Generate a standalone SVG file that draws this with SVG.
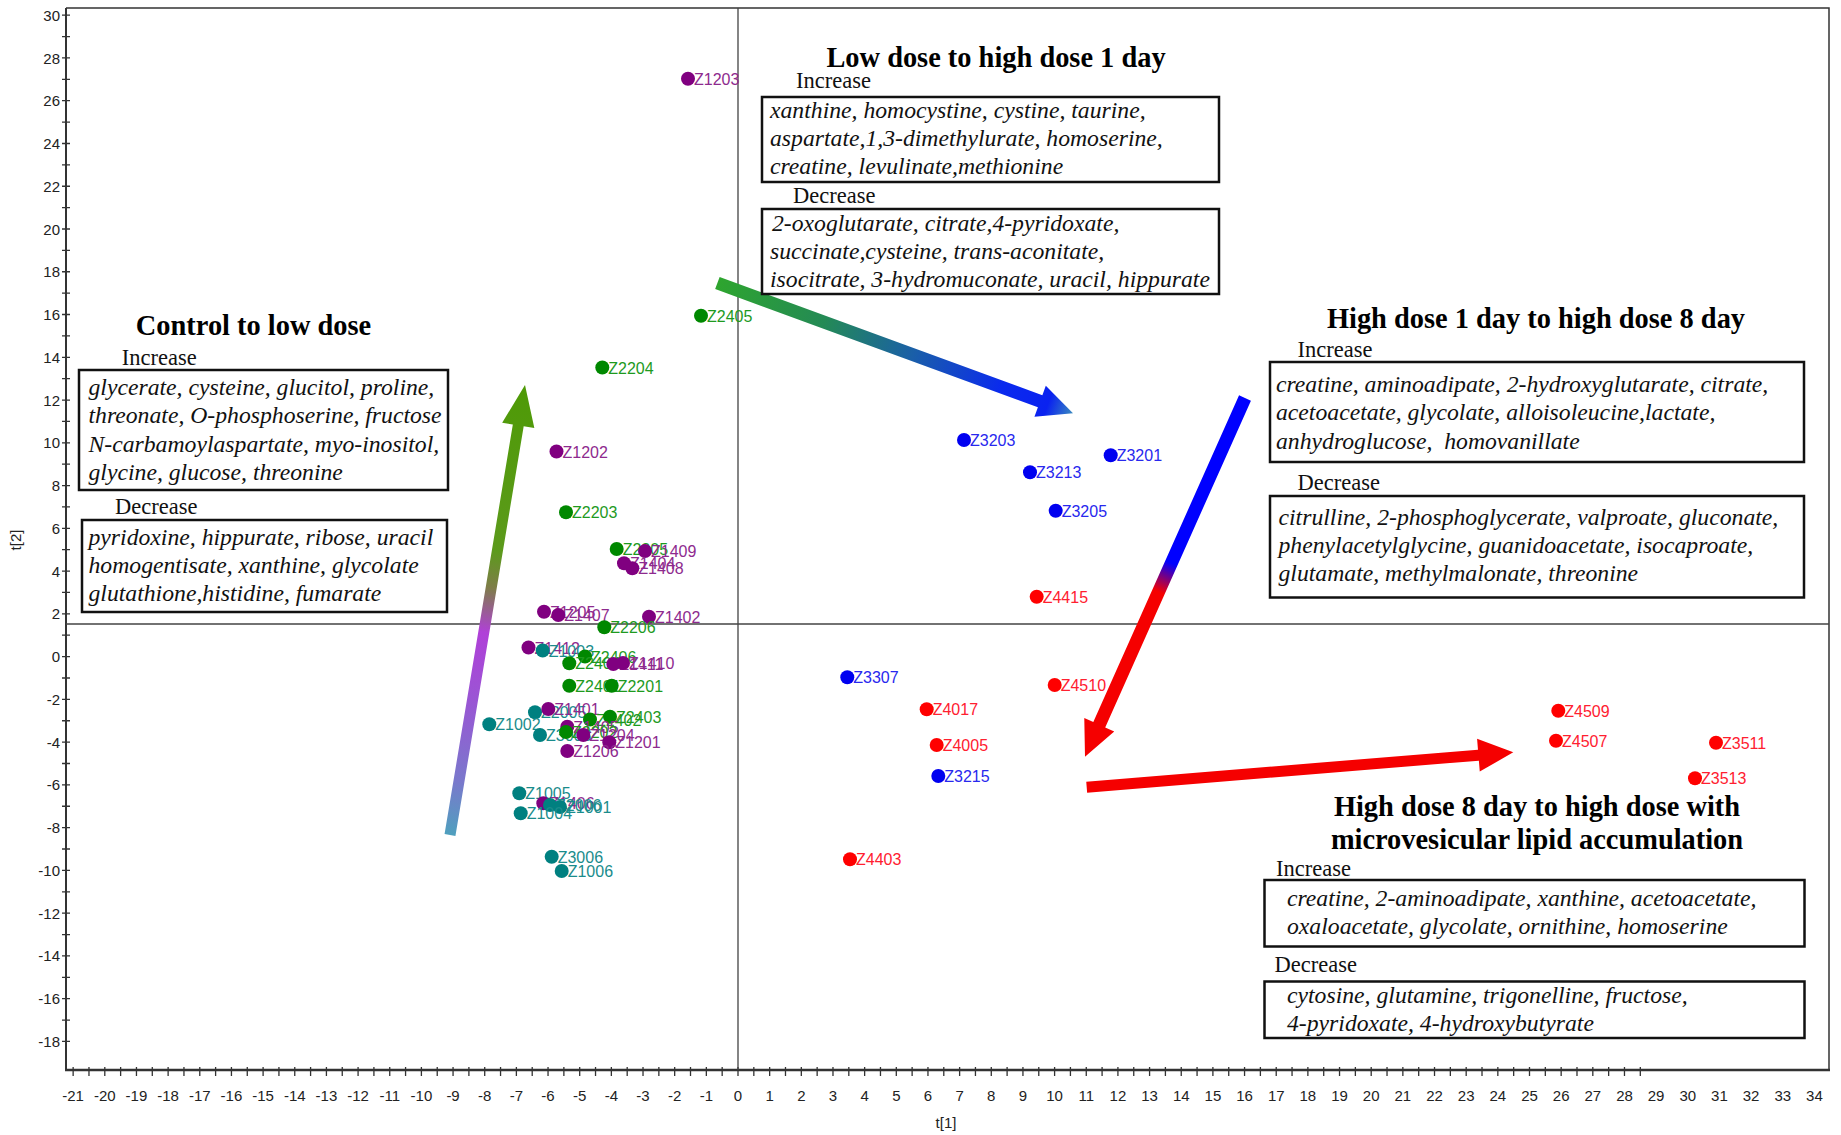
<svg xmlns="http://www.w3.org/2000/svg" width="1841" height="1135" viewBox="0 0 1841 1135">
<style>
.ax{stroke:#333;fill:none}
.ref{stroke:#444;stroke-width:1.3;fill:none}
.tk{font-family:"Liberation Sans",Arial,sans-serif;font-size:15px;fill:#222}
.lbl{font-family:"Liberation Sans",Arial,sans-serif;font-size:16px}
.ttl{font-family:"Liberation Serif","Times New Roman",serif;font-weight:bold;font-size:28.4px;fill:#000}
.sub{font-family:"Liberation Serif","Times New Roman",serif;font-size:22.5px;fill:#111}
.itm{font-family:"Liberation Serif","Times New Roman",serif;font-style:italic;font-size:23.7px;fill:#111}
.box{fill:none;stroke:#111;stroke-width:2.5}
.pu circle{fill:#800080}.pu text{fill:#8E2A8E}
.gr circle{fill:#008800}.gr text{fill:#1E9A1E}
.te circle{fill:#008080}.te text{fill:#1A8C8C}
.bl circle{fill:#0000F0}.bl text{fill:#2828EE}
.rd circle{fill:#FF0000}.rd text{fill:#FF2030}
</style>
<defs>
<linearGradient id="g1" gradientUnits="userSpaceOnUse" x1="450" y1="835" x2="525" y2="385">
<stop offset="0" stop-color="#4FA0BE"/><stop offset="0.12" stop-color="#7A78CC"/><stop offset="0.3" stop-color="#9A55D4"/><stop offset="0.45" stop-color="#B040D8"/><stop offset="0.55" stop-color="#7E7D48"/><stop offset="0.63" stop-color="#5C9A1C"/><stop offset="1" stop-color="#4E9A06"/>
</linearGradient>
<linearGradient id="g2" gradientUnits="userSpaceOnUse" x1="717" y1="283" x2="1073" y2="413">
<stop offset="0" stop-color="#2EA52E"/><stop offset="0.3" stop-color="#248A55"/><stop offset="0.55" stop-color="#1A5FA8"/><stop offset="0.8" stop-color="#0A2AEE"/><stop offset="0.93" stop-color="#0A22F0"/><stop offset="1" stop-color="#3A8AC0"/>
</linearGradient>
<linearGradient id="g3" gradientUnits="userSpaceOnUse" x1="1245" y1="398" x2="1085" y2="757">
<stop offset="0" stop-color="#0000FF"/><stop offset="0.46" stop-color="#0000FF"/><stop offset="0.54" stop-color="#F50000"/><stop offset="1" stop-color="#F50000"/>
</linearGradient>
</defs>
<rect width="1841" height="1135" fill="#fff"/>
<g id="axes">
<path class="ax" stroke-width="1.5" d="M66 8H1829V1070"/>
<path class="ax" stroke-width="2" d="M66 8V1070"/>
<path class="ax" stroke-width="2.5" d="M65 1070H1830"/>
<path class="ax" stroke-width="1.3" d="M62 15.2h8m-8 21.38h8m-8 21.38h8m-8 21.38h8m-8 21.38h8m-8 21.38h8m-8 21.38h8m-8 21.38h8m-8 21.38h8m-8 21.38h8m-8 21.38h8m-8 21.38h8m-8 21.38h8m-8 21.38h8m-8 21.38h8m-8 21.38h8m-8 21.38h8m-8 21.38h8m-8 21.38h8m-8 21.38h8m-8 21.38h8m-8 21.38h8m-8 21.38h8m-8 21.38h8m-8 21.38h8m-8 21.38h8m-8 21.38h8m-8 21.38h8m-8 21.38h8m-8 21.38h8m-8 21.38h8m-8 21.38h8m-8 21.38h8m-8 21.38h8m-8 21.38h8m-8 21.38h8m-8 21.38h8m-8 21.38h8m-8 21.38h8m-8 21.38h8m-8 21.38h8m-8 21.38h8m-8 21.38h8m-8 21.38h8m-8 21.38h8m-8 21.38h8m-8 21.38h8m-8 21.38h8m-8 21.38h8"/>
<path class="ax" stroke-width="1.3" d="M73.14 1067v9m15.83 -9v9m15.83 -9v9m15.83 -9v9m15.83 -9v9m15.83 -9v9m15.83 -9v9m15.83 -9v9m15.83 -9v9m15.83 -9v9m15.83 -9v9m15.83 -9v9m15.83 -9v9m15.83 -9v9m15.83 -9v9m15.83 -9v9m15.83 -9v9m15.83 -9v9m15.83 -9v9m15.83 -9v9m15.83 -9v9m15.83 -9v9m15.83 -9v9m15.83 -9v9m15.83 -9v9m15.83 -9v9m15.83 -9v9m15.83 -9v9m15.83 -9v9m15.83 -9v9m15.83 -9v9m15.83 -9v9m15.83 -9v9m15.83 -9v9m15.83 -9v9m15.83 -9v9m15.83 -9v9m15.83 -9v9m15.83 -9v9m15.83 -9v9m15.83 -9v9m15.83 -9v9m15.83 -9v9m15.83 -9v9m15.83 -9v9m15.83 -9v9m15.83 -9v9m15.83 -9v9m15.83 -9v9m15.83 -9v9m15.83 -9v9m15.83 -9v9m15.83 -9v9m15.83 -9v9m15.83 -9v9m15.83 -9v9m15.83 -9v9m15.83 -9v9m15.83 -9v9m15.83 -9v9m15.83 -9v9m15.83 -9v9m15.83 -9v9m15.83 -9v9m15.83 -9v9m15.83 -9v9m15.83 -9v9m15.83 -9v9m15.83 -9v9m15.83 -9v9m15.83 -9v9m15.83 -9v9m15.83 -9v9m15.83 -9v9m15.83 -9v9m15.83 -9v9m15.83 -9v9m15.83 -9v9m15.83 -9v9m15.83 -9v9m15.83 -9v9m15.83 -9v9m15.83 -9v9m15.83 -9v9m15.83 -9v9m15.83 -9v9m15.83 -9v9m15.83 -9v9m15.83 -9v9m15.83 -9v9m15.83 -9v9m15.83 -9v9m15.83 -9v9m15.83 -9v9m15.83 -9v9m15.83 -9v9m15.83 -9v9m15.83 -9v9m15.83 -9v9m15.83 -9v9"/>
<path class="ref" d="M738 8V1070M66 624H1829"/>
<g class="tk" text-anchor="end">
<text x="60" y="20.7">30</text><text x="60" y="63.5">28</text><text x="60" y="106.2">26</text><text x="60" y="149">24</text><text x="60" y="191.7">22</text><text x="60" y="234.5">20</text><text x="60" y="277.3">18</text><text x="60" y="320">16</text><text x="60" y="362.8">14</text><text x="60" y="405.5">12</text><text x="60" y="448.3">10</text><text x="60" y="491.1">8</text><text x="60" y="533.8">6</text><text x="60" y="576.6">4</text><text x="60" y="619.3">2</text><text x="60" y="662.1">0</text><text x="60" y="704.9">-2</text><text x="60" y="747.6">-4</text><text x="60" y="790.4">-6</text><text x="60" y="833.1">-8</text><text x="60" y="875.9">-10</text><text x="60" y="918.7">-12</text><text x="60" y="961.4">-14</text><text x="60" y="1004.2">-16</text><text x="60" y="1046.9">-18</text>
</g>
<g class="tk" text-anchor="middle">
<text x="73.14" y="1101">-21</text><text x="104.8" y="1101">-20</text><text x="136.46" y="1101">-19</text><text x="168.12" y="1101">-18</text><text x="199.78" y="1101">-17</text><text x="231.44" y="1101">-16</text><text x="263.1" y="1101">-15</text><text x="294.76" y="1101">-14</text><text x="326.42" y="1101">-13</text><text x="358.08" y="1101">-12</text><text x="389.74" y="1101">-11</text><text x="421.4" y="1101">-10</text><text x="453.06" y="1101">-9</text><text x="484.72" y="1101">-8</text><text x="516.38" y="1101">-7</text><text x="548.04" y="1101">-6</text><text x="579.7" y="1101">-5</text><text x="611.36" y="1101">-4</text><text x="643.02" y="1101">-3</text><text x="674.68" y="1101">-2</text><text x="706.34" y="1101">-1</text><text x="738" y="1101">0</text><text x="769.66" y="1101">1</text><text x="801.32" y="1101">2</text><text x="832.98" y="1101">3</text><text x="864.64" y="1101">4</text><text x="896.3" y="1101">5</text><text x="927.96" y="1101">6</text><text x="959.62" y="1101">7</text><text x="991.28" y="1101">8</text><text x="1022.94" y="1101">9</text><text x="1054.6" y="1101">10</text><text x="1086.26" y="1101">11</text><text x="1117.92" y="1101">12</text><text x="1149.58" y="1101">13</text><text x="1181.24" y="1101">14</text><text x="1212.9" y="1101">15</text><text x="1244.56" y="1101">16</text><text x="1276.22" y="1101">17</text><text x="1307.88" y="1101">18</text><text x="1339.54" y="1101">19</text><text x="1371.2" y="1101">20</text><text x="1402.86" y="1101">21</text><text x="1434.52" y="1101">22</text><text x="1466.18" y="1101">23</text><text x="1497.84" y="1101">24</text><text x="1529.5" y="1101">25</text><text x="1561.16" y="1101">26</text><text x="1592.82" y="1101">27</text><text x="1624.48" y="1101">28</text><text x="1656.14" y="1101">29</text><text x="1687.8" y="1101">30</text><text x="1719.46" y="1101">31</text><text x="1751.12" y="1101">32</text><text x="1782.78" y="1101">33</text><text x="1814.44" y="1101">34</text>
<text x="946" y="1128">t[1]</text>
<text transform="translate(21 540) rotate(-90)">t[2]</text>
</g>
</g>
<g id="points" class="lbl">
<g id="p-Z1203" class="pu"><circle cx="688" cy="78.7" r="7"/><text x="694" y="84.7">Z1203</text></g>
<g id="p-Z2405" class="gr"><circle cx="701" cy="315.8" r="7"/><text x="707" y="321.8">Z2405</text></g>
<g id="p-Z2204" class="gr"><circle cx="602.3" cy="367.5" r="7"/><text x="608.3" y="373.5">Z2204</text></g>
<g id="p-Z1202" class="pu"><circle cx="556.5" cy="451.5" r="7"/><text x="562.5" y="457.5">Z1202</text></g>
<g id="p-Z2203" class="gr"><circle cx="566" cy="512.3" r="7"/><text x="572" y="518.3">Z2203</text></g>
<g id="p-Z2205" class="gr"><circle cx="616.7" cy="549" r="7"/><text x="622.7" y="555">Z2205</text></g>
<g id="p-Z1409" class="pu"><circle cx="645" cy="551" r="7"/><text x="651" y="557">Z1409</text></g>
<g id="p-Z1404" class="pu"><circle cx="624" cy="563.3" r="7"/><text x="630" y="569.3">Z1404</text></g>
<g id="p-Z1408" class="pu"><circle cx="632.3" cy="568.3" r="7"/><text x="638.3" y="574.3">Z1408</text></g>
<g id="p-Z1205" class="pu"><circle cx="544" cy="611.7" r="7"/><text x="550" y="617.7">Z1205</text></g>
<g id="p-Z1407" class="pu"><circle cx="558.3" cy="615" r="7"/><text x="564.3" y="621">Z1407</text></g>
<g id="p-Z1402" class="pu"><circle cx="649" cy="616.7" r="7"/><text x="655" y="622.7">Z1402</text></g>
<g id="p-Z2206" class="gr"><circle cx="604.3" cy="627.3" r="7"/><text x="610.3" y="633.3">Z2206</text></g>
<g id="p-Z1412" class="pu"><circle cx="528.5" cy="647.5" r="7"/><text x="534.5" y="653.5">Z1412</text></g>
<g id="p-Z1003" class="te"><circle cx="542.7" cy="650.5" r="7"/><text x="548.7" y="656.5">Z1003</text></g>
<g id="p-Z2406" class="gr"><circle cx="585" cy="656.5" r="7"/><text x="591" y="662.5">Z2406</text></g>
<g id="p-Z2404" class="gr"><circle cx="569.3" cy="663.3" r="7"/><text x="575.3" y="669.3">Z2404</text></g>
<g id="p-Z1411" class="pu"><circle cx="613.3" cy="664" r="7"/><text x="619.3" y="670">Z1411</text></g>
<g id="p-Z1410" class="pu"><circle cx="623" cy="663" r="7"/><text x="629" y="669">Z1410</text></g>
<g id="p-Z2401" class="gr"><circle cx="569.3" cy="685.7" r="7"/><text x="575.3" y="691.7">Z2401</text></g>
<g id="p-Z2201" class="gr"><circle cx="611.7" cy="685.7" r="7"/><text x="617.7" y="691.7">Z2201</text></g>
<g id="p-Z2005" class="te"><circle cx="535" cy="712.3" r="7"/><text x="541" y="718.3">Z2005</text></g>
<g id="p-Z1401" class="pu"><circle cx="548.3" cy="709" r="7"/><text x="554.3" y="715">Z1401</text></g>
<g id="p-Z1002" class="te"><circle cx="489.3" cy="724.3" r="7"/><text x="495.3" y="730.3">Z1002</text></g>
<g id="p-Z2402" class="gr"><circle cx="590" cy="719.5" r="7"/><text x="596" y="725.5">Z2402</text></g>
<g id="p-Z2403" class="gr"><circle cx="610" cy="716.7" r="7"/><text x="616" y="722.7">Z2403</text></g>
<g id="p-Z3003" class="te"><circle cx="540" cy="735" r="7"/><text x="546" y="741">Z3003</text></g>
<g id="p-Z1405" class="pu"><circle cx="567.3" cy="726.7" r="7"/><text x="573.3" y="732.7">Z1405</text></g>
<g id="p-Z2202" class="gr"><circle cx="566" cy="732" r="7"/><text x="572" y="738">Z2202</text></g>
<g id="p-Z1204" class="pu"><circle cx="583.3" cy="735" r="7"/><text x="589.3" y="741">Z1204</text></g>
<g id="p-Z1201" class="pu"><circle cx="609.3" cy="742.3" r="7"/><text x="615.3" y="748.3">Z1201</text></g>
<g id="p-Z1206" class="pu"><circle cx="567.3" cy="751" r="7"/><text x="573.3" y="757">Z1206</text></g>
<g id="p-Z1005" class="te"><circle cx="519.3" cy="793.3" r="7"/><text x="525.3" y="799.3">Z1005</text></g>
<g id="p-Z1406" class="pu"><circle cx="543.3" cy="803.3" r="7"/><text x="549.3" y="809.3">Z1406</text></g>
<g id="p-Z2006" class="te"><circle cx="550" cy="805" r="7"/><text x="556" y="811">Z2006</text></g>
<g id="p-Z1001" class="te"><circle cx="560" cy="807" r="7"/><text x="566" y="813">Z1001</text></g>
<g id="p-Z1004" class="te"><circle cx="520.7" cy="813.3" r="7"/><text x="526.7" y="819.3">Z1004</text></g>
<g id="p-Z3006" class="te"><circle cx="551.7" cy="856.7" r="7"/><text x="557.7" y="862.7">Z3006</text></g>
<g id="p-Z1006" class="te"><circle cx="561.7" cy="871" r="7"/><text x="567.7" y="877">Z1006</text></g>
<g id="p-Z3203" class="bl"><circle cx="964" cy="440" r="7"/><text x="970" y="446">Z3203</text></g>
<g id="p-Z3201" class="bl"><circle cx="1110.7" cy="455.3" r="7"/><text x="1116.7" y="461.3">Z3201</text></g>
<g id="p-Z3213" class="bl"><circle cx="1030" cy="472.3" r="7"/><text x="1036" y="478.3">Z3213</text></g>
<g id="p-Z3205" class="bl"><circle cx="1055.7" cy="510.7" r="7"/><text x="1061.7" y="516.7">Z3205</text></g>
<g id="p-Z4415" class="rd"><circle cx="1036.7" cy="596.7" r="7"/><text x="1042.7" y="602.7">Z4415</text></g>
<g id="p-Z3307" class="bl"><circle cx="847.3" cy="677.3" r="7"/><text x="853.3" y="683.3">Z3307</text></g>
<g id="p-Z4510" class="rd"><circle cx="1054.7" cy="685" r="7"/><text x="1060.7" y="691">Z4510</text></g>
<g id="p-Z4017" class="rd"><circle cx="926.7" cy="709.3" r="7"/><text x="932.7" y="715.3">Z4017</text></g>
<g id="p-Z4005" class="rd"><circle cx="936.7" cy="745" r="7"/><text x="942.7" y="751">Z4005</text></g>
<g id="p-Z3215" class="bl"><circle cx="938.3" cy="776" r="7"/><text x="944.3" y="782">Z3215</text></g>
<g id="p-Z4403" class="rd"><circle cx="850" cy="859.3" r="7"/><text x="856" y="865.3">Z4403</text></g>
<g id="p-Z4509" class="rd"><circle cx="1558.3" cy="710.7" r="7"/><text x="1564.3" y="716.7">Z4509</text></g>
<g id="p-Z4507" class="rd"><circle cx="1556" cy="740.7" r="7"/><text x="1562" y="746.7">Z4507</text></g>
<g id="p-Z3511" class="rd"><circle cx="1716" cy="742.7" r="7"/><text x="1722" y="748.7">Z3511</text></g>
<g id="p-Z3513" class="rd"><circle cx="1695" cy="778.3" r="7"/><text x="1701" y="784.3">Z3513</text></g>
</g>
<g id="connectors">
<polygon id="arrow-control-low" fill="url(#g1)" points="444.57,834.10 512.83,424.54 502.18,422.76 525,385 534.34,428.12 523.69,426.34 455.43,835.90"/>
<polygon id="arrow-low-high1" fill="url(#g2)" points="719.63,276.90 1042.36,395.17 1045.8,385.78 1073,413.3 1034.46,416.76 1037.9,407.37 715.17,289.10"/>
<polygon id="arrow-high1-high8" fill="url(#g3)" points="1239.06,395.35 1250.94,400.65 1105.2,727.39 1114.24,731.42 1085,756.7 1084.28,718.06 1093.32,722.09"/>
<polygon id="arrow-high8-micro" fill="#F50000" points="1086.25,781.72 1477.97,749.67 1477.08,738.7 1513.3,752.3 1479.76,771.6 1478.87,760.63 1087.15,792.68"/>
</g>
<g id="node-control-low">
<text class="ttl" x="253.5" y="335" text-anchor="middle">Control to low dose</text>
<text class="sub" x="121.7" y="365">Increase</text>
<rect class="box" x="79" y="370" width="369" height="120"/>
<text class="itm" x="88.5" y="395">glycerate, cysteine, glucitol, proline,</text>
<text class="itm" x="88.5" y="423.3">threonate, O-phosphoserine, fructose</text>
<text class="itm" x="88.5" y="451.7">N-carbamoylaspartate, myo-inositol,</text>
<text class="itm" x="88.5" y="480">glycine, glucose, threonine</text>
<text class="sub" x="115" y="513.7">Decrease</text>
<rect class="box" x="82" y="520" width="365" height="92"/>
<text class="itm" x="88.5" y="544.5">pyridoxine, hippurate, ribose, uracil</text>
<text class="itm" x="88.5" y="572.8">homogentisate, xanthine, glycolate</text>
<text class="itm" x="88.5" y="601">glutathione,histidine, fumarate</text>
</g>
<g id="node-low-high1">
<text class="ttl" x="996" y="66.5" text-anchor="middle">Low dose to high dose 1 day</text>
<text class="sub" x="796" y="88">Increase</text>
<rect class="box" x="762" y="97" width="457" height="85"/>
<text class="itm" x="770" y="118">xanthine, homocystine, cystine, taurine,</text>
<text class="itm" x="770" y="146">aspartate,1,3-dimethylurate, homoserine,</text>
<text class="itm" x="770" y="174">creatine, levulinate,methionine</text>
<text class="sub" x="793" y="203">Decrease</text>
<rect class="box" x="762" y="209" width="457" height="85"/>
<text class="itm" x="772" y="231">2-oxoglutarate, citrate,4-pyridoxate,</text>
<text class="itm" x="770" y="259">succinate,cysteine, trans-aconitate,</text>
<text class="itm" x="770" y="287">isocitrate, 3-hydromuconate, uracil, hippurate</text>
</g>
<g id="node-high1-high8">
<text class="ttl" x="1536" y="328" text-anchor="middle">High dose 1 day to high dose 8 day</text>
<text class="sub" x="1297.5" y="356.5">Increase</text>
<rect class="box" x="1270" y="362" width="534" height="100"/>
<text class="itm" x="1276" y="392">creatine, aminoadipate, 2-hydroxyglutarate, citrate,</text>
<text class="itm" x="1276" y="420.3">acetoacetate, glycolate, alloisoleucine,lactate,</text>
<text class="itm" x="1276" y="448.5" xml:space="preserve">anhydroglucose,  homovanillate</text>
<text class="sub" x="1297.5" y="489.5">Decrease</text>
<rect class="box" x="1270" y="496" width="534" height="101.5"/>
<text class="itm" x="1278.5" y="524.5">citrulline, 2-phosphoglycerate, valproate, gluconate,</text>
<text class="itm" x="1278.5" y="552.5">phenylacetylglycine, guanidoacetate, isocaproate,</text>
<text class="itm" x="1278.5" y="580.5">glutamate, methylmalonate, threonine</text>
</g>
<g id="node-high8-micro">
<text class="ttl" x="1537" y="815.5" text-anchor="middle">High dose 8 day to high dose with</text>
<text class="ttl" x="1537" y="848.5" text-anchor="middle">microvesicular lipid accumulation</text>
<text class="sub" x="1276" y="876">Increase</text>
<rect class="box" x="1264.5" y="880" width="540" height="66.5"/>
<text class="itm" x="1287" y="906">creatine, 2-aminoadipate, xanthine, acetoacetate,</text>
<text class="itm" x="1287" y="934">oxaloacetate, glycolate, ornithine, homoserine</text>
<text class="sub" x="1274.5" y="972">Decrease</text>
<rect class="box" x="1264.5" y="981.5" width="540" height="56.5"/>
<text class="itm" x="1287" y="1002.5">cytosine, glutamine, trigonelline, fructose,</text>
<text class="itm" x="1287" y="1030.5">4-pyridoxate, 4-hydroxybutyrate</text>
</g>
</svg>
